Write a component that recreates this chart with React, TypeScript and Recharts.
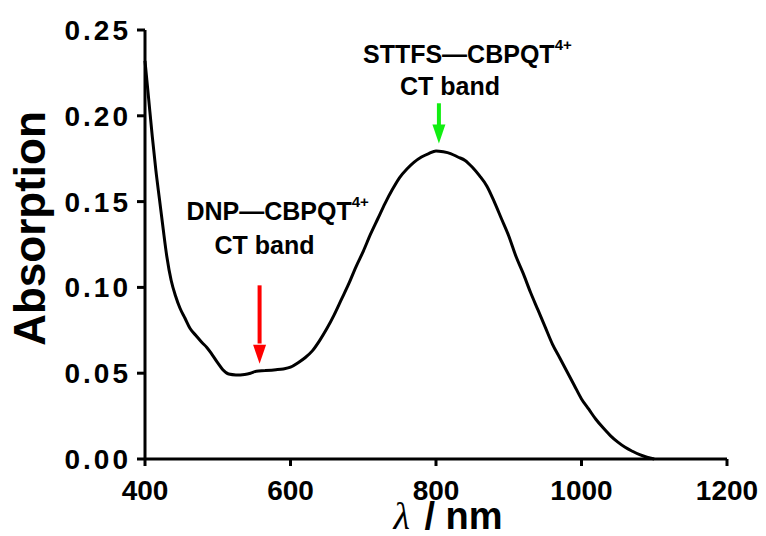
import React from "react";
import {
  LineChart,
  Line,
  XAxis,
  YAxis,
  ReferenceLine,
  ReferenceDot
} from "recharts";

// wavelength (nm) and absorption
const wavelengths = [
  400, 405, 410, 415, 420, 425, 430, 436, 442, 448, 455, 462, 470, 478, 485, 492, 500, 507, 515, 525,
  537, 545, 553, 565, 580, 590, 600, 610, 620, 630, 640, 650, 660, 670, 680, 690, 700, 710, 720, 730,
  740, 750, 760, 770, 780, 790, 800, 810, 820, 830, 840, 850, 860, 870, 880, 890, 900, 910, 920, 930,
  940, 950, 960, 970, 980, 990, 1000, 1010, 1020, 1030, 1040, 1050, 1060, 1070, 1080, 1090, 1100
];
const absorption = [
  0.232, 0.21, 0.188, 0.168, 0.151, 0.134, 0.118, 0.104, 0.095, 0.088, 0.082, 0.076, 0.072, 0.068, 0.065, 0.061, 0.056, 0.052, 0.0495, 0.049,
  0.0493, 0.05, 0.0512, 0.0515, 0.052, 0.0525, 0.0535, 0.056, 0.059, 0.063, 0.069, 0.076, 0.084, 0.093, 0.102, 0.112, 0.121, 0.131, 0.14, 0.149,
  0.157, 0.164, 0.169, 0.173, 0.176, 0.178, 0.1795, 0.179, 0.178, 0.176, 0.174, 0.17, 0.165, 0.159, 0.15, 0.14, 0.13, 0.118, 0.108, 0.097,
  0.087, 0.077, 0.067, 0.059, 0.051, 0.043, 0.035, 0.029, 0.023, 0.018, 0.0135, 0.0098, 0.0068, 0.0045, 0.0025, 0.001, 0
];

const xTicks = [400, 600, 800, 1000, 1200];
const yTicks = [0, 0.05, 0.1, 0.15, 0.2, 0.25];

// arrows: x, tail y, head base y, tip y
const arrows = [
  { x: 557.5, from: 0.1012, base: 0.0673, tip: 0.0555, color: "#ff0000" },
  { x: 804, from: 0.2073, base: 0.1944, tip: 0.1838, color: "#11ee11" }
];

// annotation text, anchored at start of first line (data coords)
const notes = [
  { x: 457, y: 0.1395, main: "DNP\u2014CBPQT", sup: "4+", second: "CT band", dx: 28, dy: 34 },
  { x: 699.6, y: 0.231, main: "STTFS\u2014CBPQT", sup: "4+", second: "CT band", dx: 37, dy: 32 }
];

const data = wavelengths.map((wl, i) => ({ wl, abs: absorption[i] }));

const FONT = "'Liberation Sans', Arial, sans-serif";

const XLabel = ({ viewBox }: any) => {
  const cx = viewBox.x + viewBox.width / 2 + 12;
  const y = viewBox.y + 70;
  return (
    <text x={cx} y={y} textAnchor="middle" fill="#000">
      <tspan fontFamily="'Liberation Serif', 'Times New Roman', serif" fontStyle="italic" fontSize={38}>
        λ
      </tspan>
      <tspan fontFamily={FONT} fontWeight="bold" fontSize={38} dx={4}> / nm</tspan>
    </text>
  );
};

const YLabel = ({ viewBox }: any) => {
  const cy = viewBox.y + viewBox.height / 2 - 16;
  const x = 45;
  return (
    <text
      x={x}
      y={cy}
      transform={`rotate(-90, ${x}, ${cy})`}
      textAnchor="middle"
      fontFamily={FONT}
      fontWeight="bold"
      fontSize={44}
      fill="#000"
    >
      Absorption
    </text>
  );
};

export default function App() {
  return (
    <div style={{ position: "absolute", left: 0, top: 0, width: 766, height: 536, background: "#fff" }}>
      <LineChart width={766} height={536} data={data} margin={{ top: 30, right: 39, bottom: 0, left: 0 }}>
        <XAxis
          dataKey="wl"
          type="number"
          domain={[400, 1200]}
          ticks={xTicks}
          height={77}
          stroke="#000"
          strokeWidth={3}
          tickSize={7}
          tickMargin={14}
          tick={{ fill: "#000", fontFamily: FONT, fontWeight: "bold", fontSize: 28 }}
          label={<XLabel />}
        />
        <YAxis
          type="number"
          domain={[0, 0.25]}
          ticks={yTicks}
          width={145}
          stroke="#000"
          strokeWidth={3}
          tickSize={8}
          tickMargin={6}
          tickFormatter={(v: number) => v.toFixed(2)}
          tick={{ fill: "#000", fontFamily: FONT, fontWeight: "bold", fontSize: 28, letterSpacing: 3 }}
          label={<YLabel />}
        />
        <Line
          type="monotone"
          dataKey="abs"
          stroke="#000"
          strokeWidth={3}
          dot={false}
          isAnimationActive={false}
        />
        {arrows.map((a, i) => (
          <ReferenceLine
            key={`shaft-${i}`}
            segment={[
              { x: a.x, y: a.from },
              { x: a.x, y: a.base }
            ]}
            stroke={a.color}
            strokeWidth={4}
          />
        ))}
        {arrows.map((a, i) => (
          <ReferenceDot
            key={`head-${i}`}
            x={a.x}
            y={a.tip}
            r={0}
            shape={(p: any) => (
              <path
                d={`M${p.cx},${p.cy} L${p.cx - 6.5},${p.cy - 19} L${p.cx + 6.5},${p.cy - 19} Z`}
                fill={a.color}
              />
            )}
          />
        ))}
        {notes.map((n, i) => (
          <ReferenceDot
            key={`note-${i}`}
            x={n.x}
            y={n.y}
            r={0}
            shape={(p: any) => (
              <g fontFamily={FONT} fontWeight="bold" fill="#000">
                <text x={p.cx} y={p.cy} fontSize={25}>
                  {n.main}
                  <tspan fontSize={15} dy={-13}>
                    {n.sup}
                  </tspan>
                </text>
                <text x={p.cx + n.dx} y={p.cy + n.dy} fontSize={25}>
                  {n.second}
                </text>
              </g>
            )}
          />
        ))}
      </LineChart>
    </div>
  );
}
